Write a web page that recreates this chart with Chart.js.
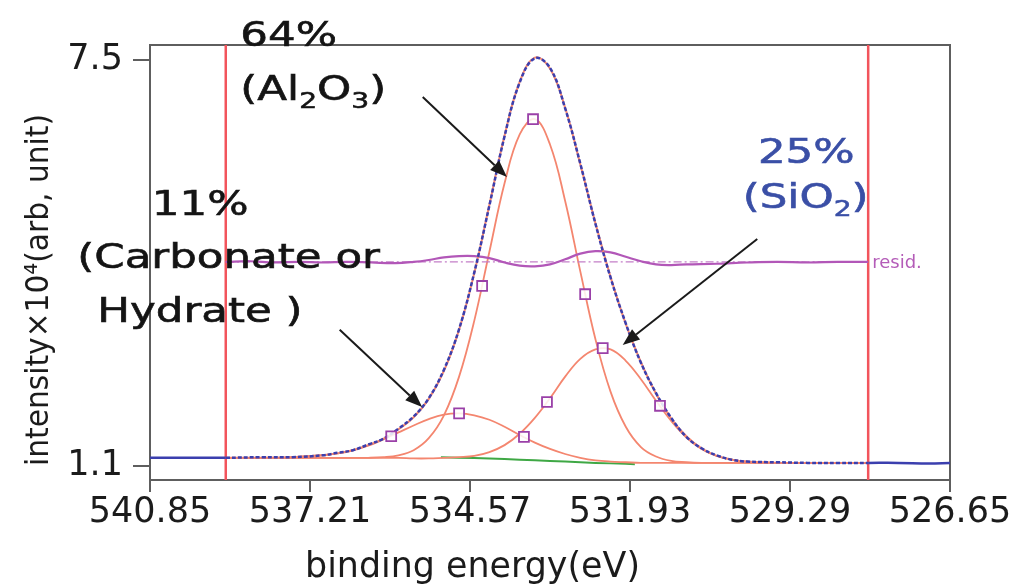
<!DOCTYPE html>
<html>
<head>
<meta charset="utf-8">
<script src="https://cdn.jsdelivr.net/npm/chart.js@4.4.0/dist/chart.umd.min.js"></script>
<style>
  html, body { margin: 0; padding: 0; background: #fff; }
  canvas { display: block; }
</style>
</head>
<body>
<canvas id="xpsChart" width="1027" height="588"></canvas>
<script>
// O 1s region, binding energy axis runs from high to low
const xTickValues = [539.85, 537.21, 534.57, 531.93, 529.29, 526.65];
const xTickLabels = ['540.85', '537.21', '534.57', '531.93', '529.29', '526.65'];
const yTickValues = [1.1, 7.5];
const yTickLabels = ['1.1', '7.5'];

// fit window (the two red bars)
const regionBounds = [538.6, 528.0];

// measured spectrum
const rawEnergy = [539.85, 539.4, 539.0, 538.6, 538.0, 537.5, 537.0, 536.75, 536.5, 536.25,
  536.0, 535.75, 535.5, 535.25, 535.0, 534.75, 534.5, 534.25, 534.0, 533.75, 533.5, 533.25,
  533.0, 532.75, 532.5, 532.25, 532.0, 531.75, 531.5, 531.25, 531.0, 530.75, 530.5, 530.25,
  530.0, 529.5, 529.0, 528.5, 528.0, 527.5, 527.0, 526.65];
const rawCounts = [1.23, 1.23, 1.23, 1.23, 1.24, 1.24, 1.27, 1.31, 1.35, 1.44,
  1.53, 1.69, 1.88, 2.17, 2.62, 3.26, 4.15, 5.21, 6.30, 7.15, 7.53, 7.38,
  6.74, 5.87, 4.92, 4.07, 3.35, 2.73, 2.25, 1.86, 1.56, 1.38, 1.27, 1.20,
  1.17, 1.16, 1.15, 1.15, 1.15, 1.15, 1.14, 1.15];

// fitted components (all sit on the background)
const fitEnergy = [538.6, 538.0, 537.5, 537.0, 536.75, 536.5, 536.25, 536.0, 535.75, 535.5,
  535.25, 535.0, 534.75, 534.5, 534.25, 534.0, 533.75, 533.5, 533.25, 533.0, 532.75, 532.5,
  532.25, 532.0, 531.75, 531.5, 531.25, 531.0, 530.75, 530.5, 530.25, 530.0, 529.5, 529.0,
  528.5, 528.0];
const carbonate = [1.23, 1.23, 1.24, 1.27, 1.30, 1.35, 1.42, 1.52, 1.63, 1.74,
  1.84, 1.91, 1.93, 1.90, 1.83, 1.72, 1.59, 1.47, 1.37, 1.29, 1.23, 1.19,
  1.17, 1.16, 1.15, 1.15, 1.15, 1.15, 1.15, 1.15, 1.15, 1.15, 1.15, 1.15,
  1.15, 1.15];
const alumina = [1.23, 1.23, 1.23, 1.23, 1.23, 1.23, 1.23, 1.24, 1.27, 1.35,
  1.54, 1.90, 2.51, 3.39, 4.48, 5.56, 6.33, 6.57, 6.17, 5.28, 4.17, 3.10,
  2.27, 1.72, 1.40, 1.25, 1.18, 1.16, 1.15, 1.15, 1.15, 1.15, 1.15, 1.15,
  1.15, 1.15];
const silica = [1.23, 1.23, 1.23, 1.23, 1.23, 1.23, 1.23, 1.23, 1.23, 1.22,
  1.22, 1.23, 1.24, 1.26, 1.32, 1.43, 1.61, 1.86, 2.17, 2.51, 2.79, 2.94,
  2.94, 2.76, 2.47, 2.13, 1.81, 1.55, 1.37, 1.26, 1.20, 1.17, 1.15, 1.15,
  1.15, 1.15];
const envelope = [1.23, 1.23, 1.24, 1.27, 1.30, 1.35, 1.43, 1.53, 1.68, 1.87,
  2.16, 2.60, 3.25, 4.14, 5.22, 6.31, 7.16, 7.54, 7.37, 6.75, 5.86, 4.93,
  4.08, 3.34, 2.74, 2.24, 1.85, 1.57, 1.38, 1.26, 1.20, 1.17, 1.15, 1.15,
  1.15, 1.15];

// shirley background
const bgEnergy = [535.05, 534.5, 534.0, 533.5, 533.0, 532.5, 532.0, 531.85];
const bgValues = [1.24, 1.225, 1.21, 1.19, 1.17, 1.15, 1.135, 1.13];

// peak position / half maximum markers
const markerEnergy = [533.53, 534.37, 532.67, 532.38, 533.30, 531.435, 534.75, 535.87, 533.68];
const markerValues = [6.57, 3.94, 3.81, 2.96, 2.11, 2.05, 1.93, 1.57, 1.56];

// residual, shown offset above the peaks
const residBase = 4.32;
const residEnergy = [538.6, 538.2, 537.8, 537.4, 537.0, 536.6, 536.2, 535.8, 535.5, 535.25,
  535.0, 534.75, 534.5, 534.25, 534.0, 533.75, 533.5, 533.25, 533.0, 532.75, 532.5, 532.25,
  532.0, 531.75, 531.5, 531.25, 531.0, 530.5, 530.0, 529.5, 529.0, 528.5, 528.0];
const residValues = [4.32, 4.33, 4.31, 4.32, 4.31, 4.32, 4.31, 4.30, 4.32, 4.35,
  4.39, 4.41, 4.41, 4.38, 4.31, 4.26, 4.25, 4.28, 4.36, 4.45, 4.49, 4.47,
  4.40, 4.33, 4.28, 4.27, 4.28, 4.29, 4.31, 4.32, 4.31, 4.32, 4.32];

const yMin = 0.88, yMax = 7.74;

// labels and arrows, placed in data units (eV, intensity)
const notes = [
  { parts: [['64%']], at: [538.36, 7.72], color: '#141414' },
  { parts: [['(Al'], ['2', 1], ['O'], ['3', 1], [')']], at: [538.36, 6.87], color: '#141414' },
  { parts: [['11%']], at: [539.82, 5.06], color: '#141414' },
  { parts: [['(Carbonate or']], at: [541.05, 4.22], color: '#141414' },
  { parts: [['Hydrate )']], at: [540.72, 3.37], color: '#141414' },
  { parts: [['25%']], at: [529.82, 5.88], color: '#3a4fa6' },
  { parts: [['(SiO'], ['2', 1], [')']], at: [530.07, 5.17], color: '#3a4fa6' }
];
const arrows = [
  { from: [535.35, 6.92], to: [533.96, 5.66] },
  { from: [536.72, 3.25], to: [535.36, 2.03] },
  { from: [529.83, 4.68], to: [532.05, 3.01] }
];

const pts = (xs, ys) => xs.map((x, i) => ({ x: x, y: ys[i] }));
const vbar = e => [{ x: e, y: yMin }, { x: e, y: yMax }];

const FONT = '"DejaVu Sans"';
const SALMON = '#f4866f';

function drawParts(ctx, parts, x, y, size, sx, color) {
  ctx.save();
  ctx.translate(x, y);
  ctx.scale(sx, 1);
  ctx.fillStyle = color;
  ctx.strokeStyle = color;
  ctx.lineWidth = 0.6;
  ctx.textBaseline = 'alphabetic';
  ctx.textAlign = 'left';
  let cx = 0;
  for (const [txt, sub] of parts) {
    const fs = sub ? Math.round(size * 0.66) : size;
    ctx.font = fs + 'px ' + FONT;
    ctx.fillText(txt, cx, sub ? size * 0.24 : 0);
    ctx.strokeText(txt, cx, sub ? size * 0.24 : 0);
    cx += ctx.measureText(txt).width;
  }
  ctx.restore();
}

function fitText(ctx, txt, x, y, size, width, rot) {
  ctx.save();
  ctx.font = size + 'px ' + FONT;
  const w = ctx.measureText(txt).width;
  ctx.translate(x, y);
  if (rot) ctx.rotate(rot);
  ctx.scale(width / w, 1);
  ctx.fillStyle = '#1b1b1b';
  ctx.textBaseline = 'alphabetic';
  ctx.fillText(txt, 0, 0);
  ctx.restore();
}

const decorations = {
  id: 'decorations',
  beforeDatasetsDraw(chart) {
    const { ctx, chartArea: a } = chart;
    ctx.save();
    ctx.strokeStyle = '#5e5e5e';
    ctx.lineWidth = 2;
    ctx.strokeRect(a.left, a.top, a.right - a.left, a.bottom - a.top);
    ctx.restore();
  },
  afterDraw(chart) {
    const { ctx } = chart;
    const xs = chart.scales.x, ys = chart.scales.y;
    const px = e => xs.getPixelForValue(e);
    const py = v => ys.getPixelForValue(v);

    // arrows
    ctx.save();
    ctx.strokeStyle = '#1a1a1a';
    ctx.fillStyle = '#1a1a1a';
    ctx.lineWidth = 2;
    for (const ar of arrows) {
      const x0 = px(ar.from[0]), y0 = py(ar.from[1]);
      const x1 = px(ar.to[0]), y1 = py(ar.to[1]);
      const ang = Math.atan2(y1 - y0, x1 - x0);
      const hl = 17, hw = 6.5;
      const bx = x1 - hl * Math.cos(ang), by = y1 - hl * Math.sin(ang);
      ctx.beginPath();
      ctx.moveTo(x0, y0);
      ctx.lineTo(bx, by);
      ctx.stroke();
      ctx.beginPath();
      ctx.moveTo(x1, y1);
      ctx.lineTo(bx + hw * Math.sin(ang), by - hw * Math.cos(ang));
      ctx.lineTo(bx - hw * Math.sin(ang), by + hw * Math.cos(ang));
      ctx.closePath();
      ctx.fill();
    }
    ctx.restore();

    for (const n of notes) {
      drawParts(ctx, n.parts, px(n.at[0]), py(n.at[1]), 34, 1.28, n.color);
    }

    // residual tag
    ctx.save();
    ctx.font = '18px ' + FONT;
    ctx.fillStyle = '#b45cb8';
    ctx.textBaseline = 'middle';
    ctx.fillText('resid.', px(regionBounds[1]) + 4, py(residBase) + 1);
    ctx.restore();

    // axis titles
    fitText(ctx, 'binding energy(eV)', 305, 577, 35, 335, 0);
    fitText(ctx, 'intensity\u00d710\u2074(arb, unit)', 48, 466, 32, 352, -Math.PI / 2);
  }
};

Chart.defaults.font.family = FONT;

new Chart(document.getElementById('xpsChart').getContext('2d'), {
  type: 'line',
  data: {
    datasets: [
      {
        data: pts(markerEnergy, markerValues),
        showLine: false,
        pointStyle: 'rect',
        pointRadius: 7,
        pointBorderWidth: 1.8,
        pointBorderColor: '#9a40a8',
        pointBackgroundColor: 'rgba(255,255,255,0.85)',
        order: 0
      },
      {
        data: pts(rawEnergy, rawCounts),
        borderColor: '#3b3fae',
        borderWidth: 2.5,
        pointRadius: 0,
        segment: {
          borderDash: c => (c.p0.parsed.x <= regionBounds[0] && c.p1.parsed.x >= regionBounds[1]) ? [4, 2] : undefined
        },
        order: 1
      },
      { data: pts(fitEnergy, envelope), borderColor: SALMON, borderWidth: 2, pointRadius: 0, order: 2 },
      { data: pts(residEnergy, residValues), borderColor: '#b257b8', borderWidth: 2.2, pointRadius: 0, order: 3 },
      {
        data: [{ x: regionBounds[0], y: residBase }, { x: regionBounds[1], y: residBase }],
        borderColor: '#c47fc8', borderWidth: 1.2, borderDash: [8, 3, 2, 3], pointRadius: 0, order: 4
      },
      { data: pts(fitEnergy, alumina), borderColor: SALMON, borderWidth: 1.8, pointRadius: 0, order: 5 },
      { data: pts(fitEnergy, silica), borderColor: SALMON, borderWidth: 1.8, pointRadius: 0, order: 6 },
      { data: pts(fitEnergy, carbonate), borderColor: SALMON, borderWidth: 1.8, pointRadius: 0, order: 7 },
      { data: pts(bgEnergy, bgValues), borderColor: '#3fa845', borderWidth: 2, pointRadius: 0, order: 8 },
      { data: vbar(regionBounds[0]), borderColor: '#f2545c', borderWidth: 2.5, pointRadius: 0, tension: 0, order: 9 },
      { data: vbar(regionBounds[1]), borderColor: '#f2545c', borderWidth: 2.5, pointRadius: 0, tension: 0, order: 9 }
    ]
  },
  options: {
    responsive: false,
    animation: false,
    events: [],
    elements: { line: { tension: 0.4, fill: false } },
    layout: { padding: { left: 0, top: 45, right: 77, bottom: 0 } },
    plugins: { legend: { display: false }, tooltip: { enabled: false } },
    scales: {
      x: {
        type: 'linear',
        reverse: true,
        min: 526.65,
        max: 539.85,
        afterBuildTicks: s => { s.ticks = xTickValues.map(v => ({ value: v })); },
        afterFit: s => { s.height = 108; },
        border: { display: false },
        grid: { drawOnChartArea: false, drawTicks: true, tickLength: 12, color: '#5e5e5e', lineWidth: 2 },
        ticks: {
          autoSkip: false,
          maxRotation: 0,
          padding: 0,
          color: '#1b1b1b',
          font: { size: 35 },
          callback: v => xTickLabels[xTickValues.indexOf(v)]
        }
      },
      y: {
        type: 'linear',
        min: yMin,
        max: yMax,
        afterBuildTicks: s => { s.ticks = yTickValues.map(v => ({ value: v })); },
        afterFit: s => { s.width = 150; },
        border: { display: false },
        grid: { drawOnChartArea: false, drawTicks: true, tickLength: 17, color: '#5e5e5e', lineWidth: 2 },
        ticks: {
          padding: 10,
          color: '#1b1b1b',
          font: { size: 35 },
          callback: v => yTickLabels[yTickValues.indexOf(v)]
        }
      }
    }
  },
  plugins: [decorations]
});
</script>
</body>
</html>
